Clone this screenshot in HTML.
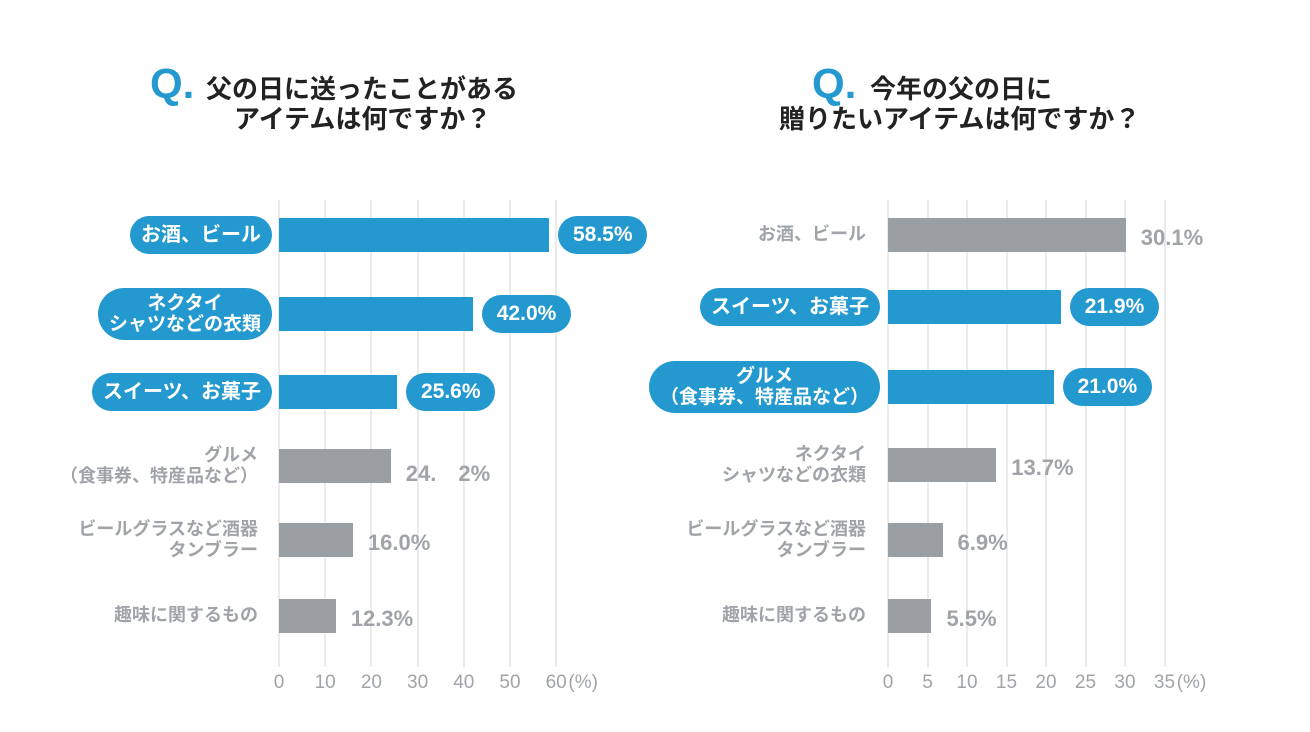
<!DOCTYPE html>
<html><head><meta charset="utf-8">
<style>
body{margin:0;background:#fff;}
#root{position:relative;width:1310px;height:732px;overflow:hidden;font-family:"Liberation Sans","Noto Sans CJK JP",sans-serif;}
.abs{position:absolute;}
.title{position:absolute;font-weight:bold;font-size:26px;color:#222;line-height:30px;white-space:nowrap;}
.q{color:#2399cf;font-size:42px;font-weight:bold;}
.pill{position:absolute;background:#2399cf;color:#fff;font-weight:bold;border-radius:20px;display:flex;align-items:center;justify-content:center;text-align:center;box-sizing:border-box;padding:0 11px;white-space:nowrap;}
.glabel{position:absolute;color:#a0a4a8;font-weight:bold;font-size:18px;line-height:21px;text-align:right;white-space:nowrap;}
.val{position:absolute;color:#a0a4a8;font-weight:bold;font-size:22px;white-space:nowrap;}
.tick{position:absolute;color:#a0a4a8;font-size:19px;transform:translateX(-50%);}
</style></head>
<body><div id="root">
<div class="abs" style="left:150px;top:60px;">
 <span class="q abs" style="left:0;top:0;">Q.</span>
 <div class="title" style="left:56px;top:14px;">父の日に送ったことがある</div>
 <div class="title" style="left:84px;top:44px;">アイテムは何ですか？</div>
</div>
<div class="abs" style="left:812px;top:60px;">
 <span class="q abs" style="left:0;top:0;">Q.</span>
 <div class="title" style="left:58px;top:14px;">今年の父の日に</div>
 <div class="title" style="left:-33px;top:44px;">贈りたいアイテムは何ですか？</div>
</div>
</div>
<script>
const leftCategories=["お酒、ビール","ネクタイ<br>シャツなどの衣類","スイーツ、お菓子","グルメ<br>（食事券、特産品など）","ビールグラスなど酒器<br>タンブラー","趣味に関するもの"];
const leftValues=[58.5,42.0,25.6,24.2,16.0,12.3];
const leftValueLabels=["58.5%","42.0%","25.6%","24.　2%","16.0%","12.3%"];
const leftHighlight=[true,true,true,false,false,false];
const leftTicks=[0,10,20,30,40,50,60];
const rightCategories=["お酒、ビール","スイーツ、お菓子","グルメ<br>（食事券、特産品など）","ネクタイ<br>シャツなどの衣類","ビールグラスなど酒器<br>タンブラー","趣味に関するもの"];
const rightValues=[30.1,21.9,21.0,13.7,6.9,5.5];
const rightValueLabels=["30.1%","21.9%","21.0%","13.7%","6.9%","5.5%"];
const rightHighlight=[false,true,true,false,false,false];
const rightTicks=[0,5,10,15,20,25,30,35];

const root=document.getElementById('root');
function mk(cls,name){const d=document.createElement('div');d.className=cls;


root.appendChild(d);return d;}
function chart(side,cats,vals,labels,hi,ticks,x0,scale,rowTops,labelRight){
 const xs=v=>x0+v*scale;
 ticks.forEach(t=>{
  const g=mk('abs',side+'-gridline-'+t);
  g.style.cssText=`left:${xs(t)-1}px;top:200px;width:2px;height:467px;background:#ebebeb;`;
  const tl=mk('tick',side+'-tick-label-'+t);
  tl.textContent=t;tl.style.left=xs(t)+'px';tl.style.top='672px';
 });
 const u=mk('tick',side+'-axis-unit');u.textContent='(%)';
 u.style.left=(xs(ticks[ticks.length-1])+27)+'px';u.style.top='672px';
 vals.forEach((v,i)=>{
  const top=rowTops[i],mid=top+17;
  const b=mk('abs',side+'-bar-'+i);
  b.style.cssText=`left:${x0}px;top:${top}px;width:${xs(v)-x0}px;height:34px;background:${hi[i]?'#2399cf':'#9a9fa3'};`;
  const two=cats[i].indexOf('<br>')>=0;
  if(hi[i]){
   const p=mk('pill',side+'-category-pill-'+i);
   p.innerHTML=cats[i];
   const h=two?52:38;
   p.style.cssText+=`right:${1310-labelRight}px;top:${mid-h/2}px;height:${h}px;font-size:${two?19:20}px;line-height:21px;border-radius:${h/2}px;`;
   const vp=mk('pill',side+'-value-pill-'+i);
   vp.textContent=labels[i];
   vp.style.cssText+=`left:${xs(v)+9}px;top:${mid-19}px;height:38px;width:89px;font-size:21px;padding:0;`;
  }else{
   const g=mk('glabel',side+'-category-label-'+i);
   g.innerHTML=cats[i];
   g.style.right=(1310-labelRight+14)+'px';
   g.style.top=(mid-(two?21:11))+'px';
   const vl=mk('val',side+'-value-label-'+i);
   vl.textContent=labels[i];
   vl.style.left=(xs(v)+15)+'px';vl.style.top=(mid-10)+'px';
  }
 });
}
chart('left',leftCategories,leftValues,leftValueLabels,leftHighlight,leftTicks,279,4.62,[218,297,375,449,523,599],272);
chart('right',rightCategories,rightValues,rightValueLabels,rightHighlight,rightTicks,888,7.9,[218,290,370,448,523,599],880);
</script>
</body></html>
